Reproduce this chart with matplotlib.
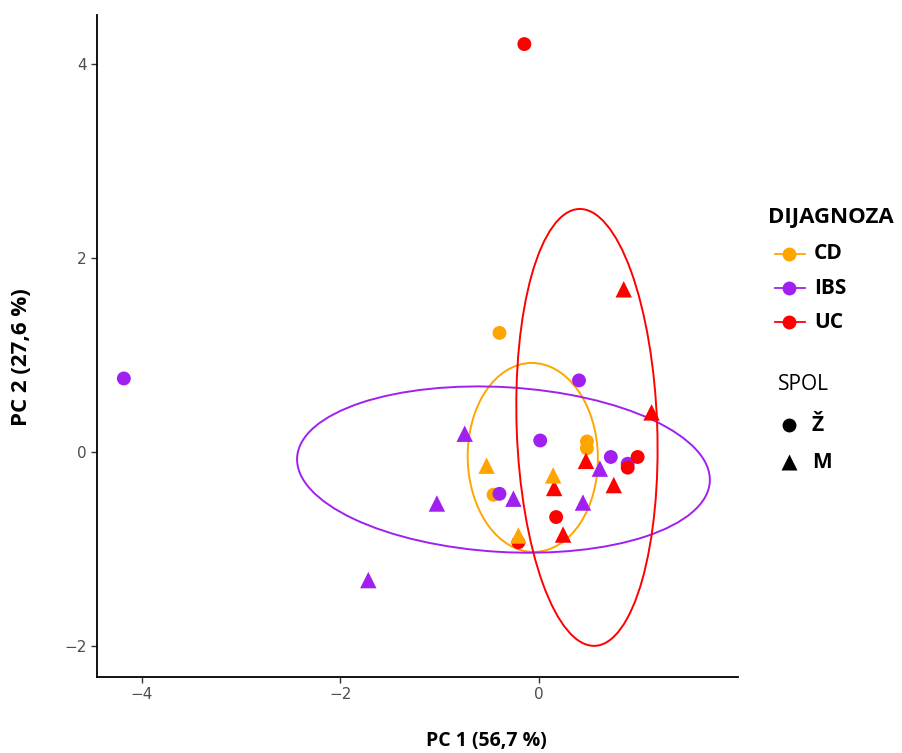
import numpy as np
import matplotlib
matplotlib.use("Agg")
import matplotlib.pyplot as plt
from matplotlib.lines import Line2D
from matplotlib.patches import Ellipse

# ---- data ----
groups = ["CD", "IBS", "UC"]
colors = {"CD": "#FFA500", "IBS": "#A020F0", "UC": "#FF0000"}
sex_labels = ["Ž", "M"]

cd_x = [-0.40, 0.48, 0.48, -0.46, -0.53, 0.14, -0.21]
cd_y = [1.23, 0.11, 0.04, -0.44, -0.14, -0.24, -0.86]
cd_s = ["Ž", "Ž", "Ž", "Ž", "M", "M", "M"]

ibs_x = [-4.18, 0.40, 0.01, 0.72, 0.89, -0.40, -0.75, 0.61, 0.44, -0.26, -1.03, -1.72]
ibs_y = [0.76, 0.74, 0.12, -0.05, -0.12, -0.43, 0.19, -0.17, -0.52, -0.48, -0.53, -1.32]
ibs_s = ["Ž", "Ž", "Ž", "Ž", "Ž", "Ž", "M", "M", "M", "M", "M", "M"]

uc_x = [-0.15, 0.99, 0.89, 0.17, -0.21, 0.85, 1.13, 0.47, 0.15, 0.75, 0.24]
uc_y = [4.21, -0.05, -0.16, -0.67, -0.93, 1.68, 0.41, -0.09, -0.37, -0.34, -0.85]
uc_s = ["Ž", "Ž", "Ž", "Ž", "Ž", "M", "M", "M", "M", "M", "M"]

data = {"CD": (cd_x, cd_y, cd_s), "IBS": (ibs_x, ibs_y, ibs_s), "UC": (uc_x, uc_y, uc_s)}

# 95% ellipses: centre, semi-axes, angle (deg)
ell_cx = {"CD": -0.065, "IBS": -0.36, "UC": 0.48}
ell_cy = {"CD": -0.055, "IBS": -0.18, "UC": 0.255}
ell_a = {"CD": 0.975, "IBS": 2.08, "UC": 2.255}
ell_b = {"CD": 0.655, "IBS": 0.85, "UC": 0.707}
ell_ang = {"CD": 91.0, "IBS": -3.5, "UC": 92.0}

x_ticks = [-4, -2, 0]
y_ticks = [-2, 0, 2, 4]

fig = plt.figure(figsize=(9.02, 7.53), dpi=100)
ax = fig.add_axes([97/902, 76/753, 641/902, 662/753])

# ellipses
for g in groups:
    e = Ellipse((ell_cx[g], ell_cy[g]), 2 * ell_a[g], 2 * ell_b[g], angle=ell_ang[g],
                fill=False, edgecolor=colors[g], lw=1.4, zorder=2)
    ax.add_patch(e)

# points
order_z = {"CD": 3, "IBS": 4, "UC": 5}
for g in groups:
    x, y, s = data[g]
    for xi, yi, si in zip(x, y, s):
        z = order_z[g]
        if g == "CD" and si == "M":
            z = 6
        if si == "Ž":
            ax.scatter(xi, yi, s=100, marker="o", color=colors[g], edgecolors="none", zorder=z)
        else:
            ax.scatter(xi, yi, s=140, marker="^", color=colors[g], edgecolors="none", zorder=z)

ax.set_xlim(-4.45, 2.0)
ax.set_ylim(-2.32, 4.51)
ax.set_xticks(x_ticks)
ax.set_yticks(y_ticks)
ax.set_xticklabels(["\u22124", "\u22122", "0"])
ax.set_yticklabels(["\u22122", "0", "2", "4"])
for sp in ["top", "right"]:
    ax.spines[sp].set_visible(False)
for sp in ["left", "bottom"]:
    ax.spines[sp].set_linewidth(1.3)
ax.tick_params(axis="both", colors="#333333", labelcolor="#4D4D4D", labelsize=11, length=4, width=1.0)

fig.text(486/902, 1 - 741/753, "PC 1 (56,7 %)", ha="center", va="center", fontsize=14,
         fontweight="bold", family="Open Sans")
fig.text(22/902, 1 - 357/753, "PC 2 (27,6 %)", ha="center", va="center", fontsize=16,
         fontweight="bold", family="Open Sans", rotation=90)

# legend (manual)
fig.text(768/902, 1 - 217/753, "DIJAGNOZA", ha="left", va="center", fontsize=16,
         fontweight="bold", family="Open Sans")
for i, g in enumerate(groups):
    yy = 1 - (254 + 34 * i) / 753
    fig.add_artist(Line2D([775/902, 805/902], [yy, yy], color=colors[g], lw=1.3,
                          transform=fig.transFigure))
    fig.add_artist(Line2D([789/902], [yy], marker="o", markersize=10, color=colors[g],
                          markeredgecolor="none", transform=fig.transFigure))
    fig.text(814/902, yy, g, ha="left", va="center", fontsize=15, fontweight="bold",
             family="Open Sans")

fig.text(778/902, 1 - 384/753, "SPOL", ha="left", va="center", fontsize=15,
         family="Open Sans")
for i, (lab, mk, ms) in enumerate(zip(sex_labels, ["o", "^"], [10, 12])):
    yy = 1 - (425 + 37 * i) / 753
    fig.add_artist(Line2D([789/902], [yy], marker=mk, markersize=ms, color="black",
                          markeredgecolor="none", transform=fig.transFigure))
    fig.text(812/902, yy, lab, ha="left", va="center", fontsize=15, fontweight="bold",
             family="Open Sans")

fig.savefig("out.png", dpi=100)
